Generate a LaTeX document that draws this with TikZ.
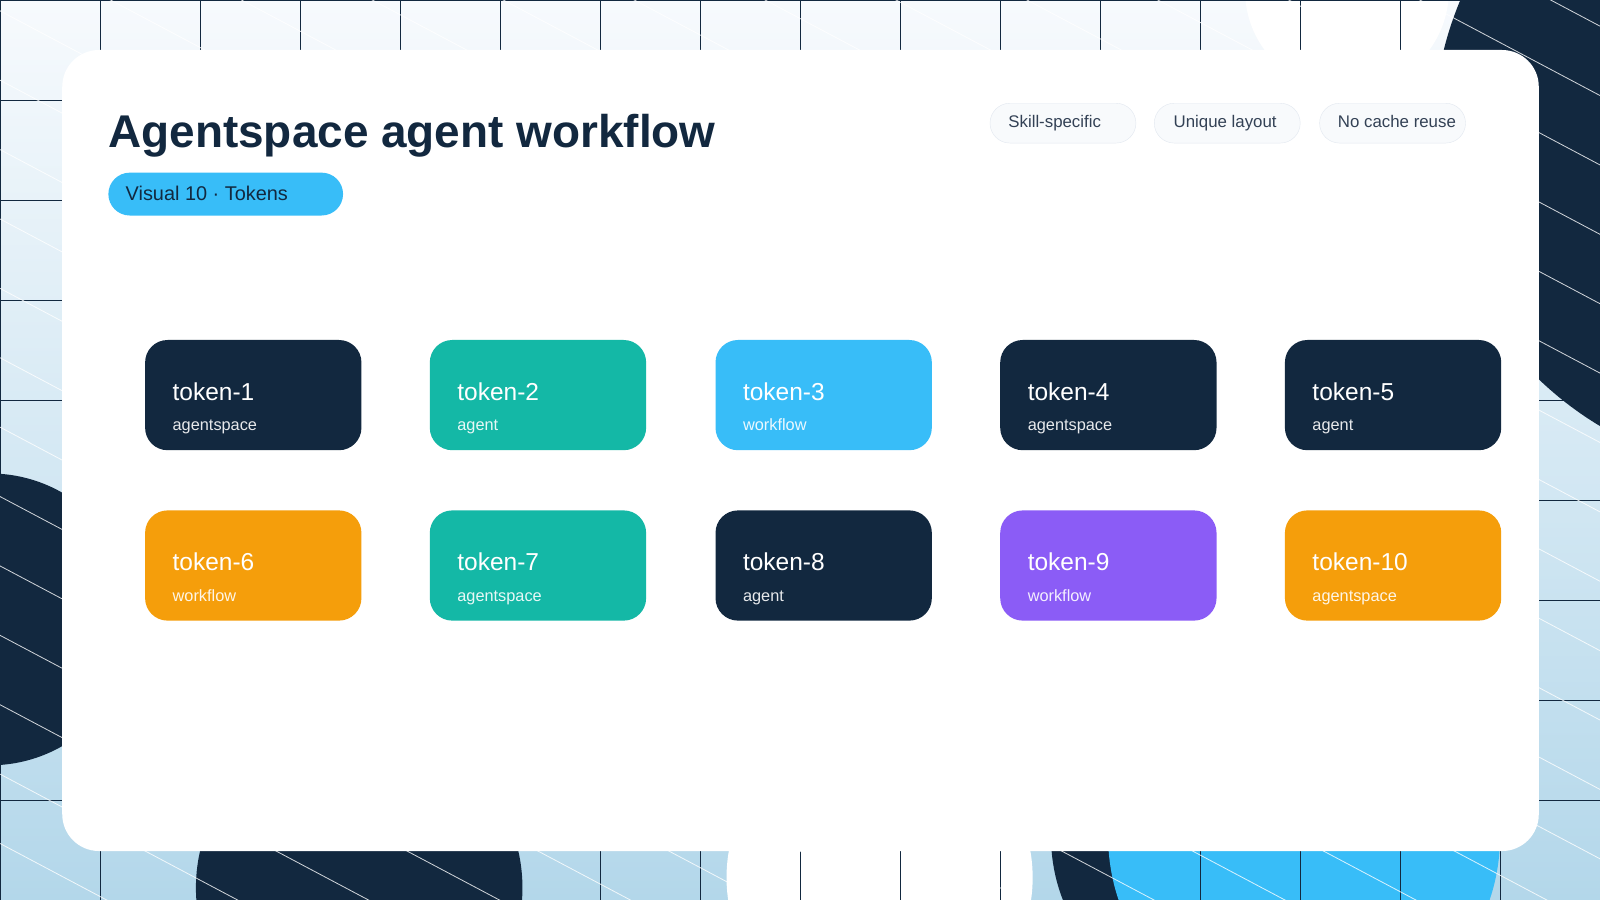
\documentclass[tikz,border=0pt]{standalone}
\usepackage{fontspec}
\setmainfont{Liberation Sans}
\definecolor{navy}{HTML}{12283F}
\definecolor{teal}{HTML}{14B8A6}
\definecolor{sky}{HTML}{38BDF8}
\definecolor{amber}{HTML}{F59E0B}
\definecolor{violet}{HTML}{8B5CF6}
\definecolor{bgtop}{HTML}{F7FAFD}
\definecolor{bgbot}{HTML}{B3D7EA}
\definecolor{chipfill}{HTML}{F8FAFC}
\definecolor{chipline}{HTML}{E2E8F0}
\definecolor{chiptext}{HTML}{334155}
\begin{document}
\begin{tikzpicture}[x=1pt,y=-1pt,
  tok/.style={rounded corners=22pt,minimum width=212pt,minimum height=108pt,inner sep=0pt},
  tokname/.style={text=white,inner sep=0pt,font=\fontsize{24}{28}\selectfont,anchor=base west},
  toksub/.style={text=white,inner sep=0pt,opacity=0.9,font=\fontsize{16}{19}\selectfont,anchor=base west},
  chip/.style={draw=chipline,fill=chipfill,rounded corners=19.5pt,minimum width=143pt,minimum height=39pt,inner sep=0pt,anchor=north west},
  chiptxt/.style={text=chiptext,inner sep=0pt,anchor=base west,font=\fontsize{16.5}{19}\selectfont}]
\useasboundingbox (0,0) rectangle (1568,882);
\begin{scope}
\clip (0,0) rectangle (1568,882);
\shade[top color=bgtop,bottom color=bgbot] (0,0) rectangle (1568,882);
% circles
\fill[white] (1320,-10) circle (100);
\fill[navy] (1740,130) circle (335);
\fill[navy] (-10,607) circle (143);
\fill[navy] (352,870) circle (160);
\fill[white] (862,860) circle (150);
\fill[navy] (1200,820) circle (170);
\fill[sky] (1278,820) circle (192);
% grid
\foreach \i in {0,...,16} \draw[navy,line width=0.8pt] (\i*98,0) -- (\i*98,882);
\foreach \j in {0,...,9} \draw[navy,line width=0.8pt] (0,\j*98) -- (1568,\j*98);
% diagonals
\foreach \k in {-32,...,14} \draw[white,line width=0.8pt,opacity=0.8] (-20,\k*68) -- (1700,\k*68+0.53*1720);
\end{scope}
% card
\fill[white] (61,49) [rounded corners=36pt] rectangle (1508,834);
\node[anchor=base west,inner sep=0pt,text=navy,font=\bfseries\fontsize{45}{50}\selectfont] (title) at (106,145) {Agentspace agent workflow};
\node[fill=sky,rounded corners=21pt,minimum width=230pt,minimum height=42pt,inner sep=0pt,anchor=north west] (pill) at (106,169) {};
\node[anchor=west,text=navy,font=\fontsize{19.5}{22}\selectfont,inner sep=0pt] (pilltext) at (123,190) {Visual 10 · Tokens};
\node[chip] (c1) at (970,101) {};
\node[chip] (c2) at (1131,101) {};
\node[chip] (c3) at (1293,101) {};
\node[chiptxt] (c1t) at (988,125) {Skill-specific};
\node[chiptxt] (c2t) at (1150,125) {Unique layout};
\node[chiptxt] (c3t) at (1311,125) {No cache reuse};
\foreach \n/\x/\y/\c/\s in {1/142/333/navy/agentspace,2/421/333/teal/agent,3/701/333/sky/workflow,4/980/333/navy/agentspace,5/1259/333/navy/agent,6/142/500/amber/workflow,7/421/500/teal/agentspace,8/701/500/navy/agent,9/980/500/violet/workflow,10/1259/500/amber/agentspace}{
  \node[tok,fill=\c,anchor=north west] (t\n) at (\x,\y) {};
  \node[tokname] (t\n n) at (\x+27,\y+59) {token-\n};
  \node[toksub] (t\n s) at (\x+27,\y+89) {\s};
}
\end{tikzpicture}
\end{document}
